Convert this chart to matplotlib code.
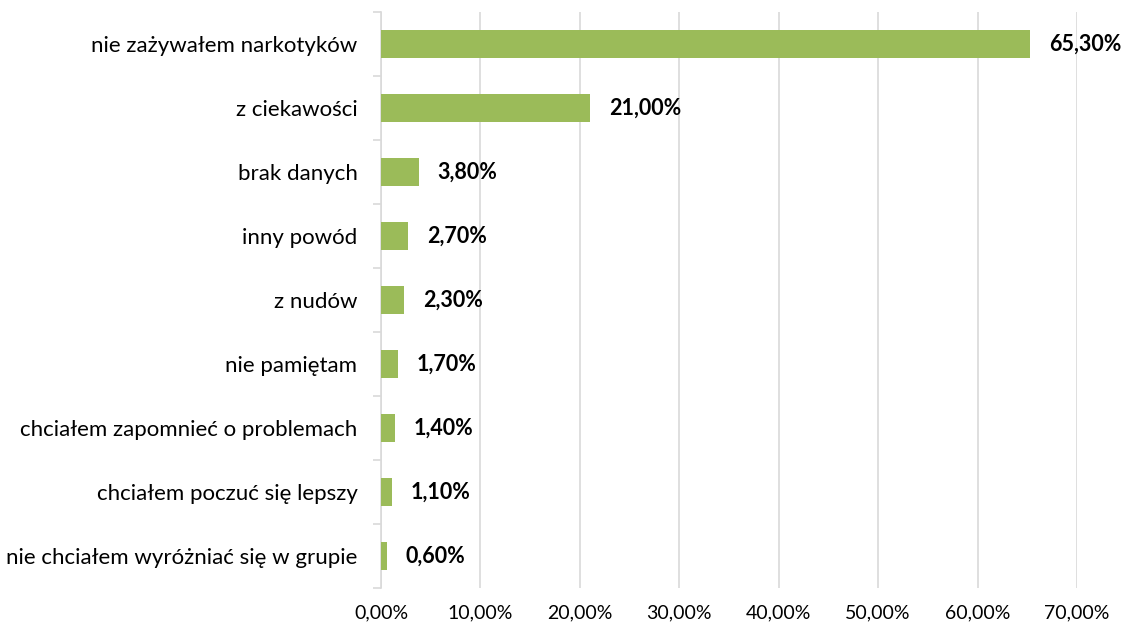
import matplotlib
matplotlib.use("Agg")
import matplotlib.pyplot as plt
import numpy as np

categories = ["nie zażywałem narkotyków", "z ciekawości", "brak danych", "inny powód",
              "z nudów", "nie pamiętam", "chciałem zapomnieć o problemach",
              "chciałem poczuć się lepszy", "nie chciałem wyróżniać się w grupie"]
values = [65.3, 21.0, 3.8, 2.7, 2.3, 1.7, 1.4, 1.1, 0.6]
xticks = [0, 10, 20, 30, 40, 50, 60, 70]

plt.rcParams['font.family'] = ['Lato', 'DejaVu Sans']

fig = plt.figure(figsize=(11.23, 6.31), dpi=100)
ax = fig.add_axes([381/1123, 1-588/631, (1077-381)/1123, (588-12)/631])

y = np.arange(len(categories))
ax.barh(y, values, height=0.44, color="#9BBB59", zorder=3)
ax.set_ylim(len(categories)-0.5, -0.5)
ax.set_xlim(0, 70)
ax.set_xticks(xticks)
ax.set_xticklabels([f"{v:.2f}%".replace(".", ",") for v in xticks], fontsize=14)
ax.set_yticks(y)
ax.set_yticklabels(categories, fontsize=16)
ax.set_yticks(np.arange(len(categories)+1)-0.5, minor=True)
ax.tick_params(axis='y', which='major', length=0, pad=17)
ax.tick_params(axis='y', which='minor', length=6, color="#D9D9D9", width=1.2)
ax.tick_params(axis='x', length=0, pad=12)
ax.grid(axis='x', color="#D9D9D9", linewidth=1.2, zorder=0)
for s in ['top', 'right', 'bottom']:
    ax.spines[s].set_visible(False)
ax.spines['left'].set_color("#D9D9D9")
ax.spines['left'].set_linewidth(1.2)

for yi, v in zip(y, values):
    ax.text(v + 1.9, yi, f"{v:.2f}%".replace(".", ","), va='center', ha='left',
            fontsize=15.5, fontweight='bold', zorder=4)

fig.savefig("out.png", dpi=100)
